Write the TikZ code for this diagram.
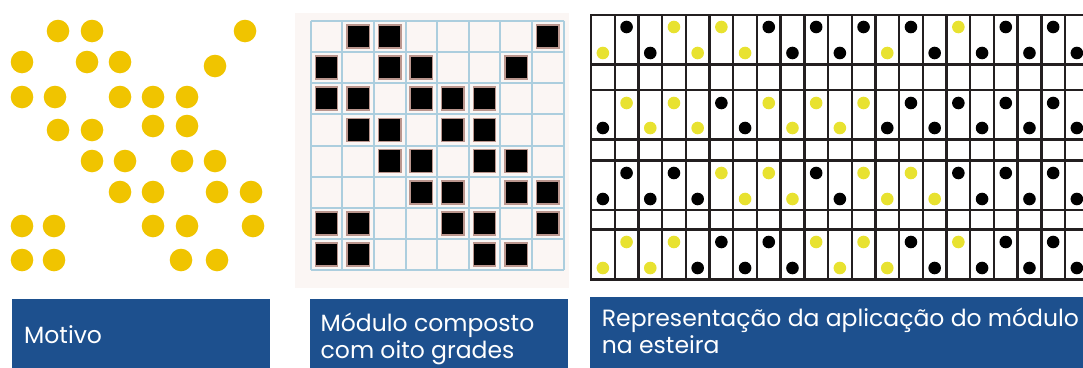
\documentclass[tikz,border=0pt]{standalone}
\usepackage{fontspec}
\newfontfamily\capfont{Poppins}
\usetikzlibrary{positioning}

\definecolor{motif}{RGB}{240,196,0}
\definecolor{Y}{RGB}{232,226,48}
\definecolor{K}{RGB}{0,0,0}
\definecolor{capblue}{RGB}{29,80,142}
\definecolor{gridblue}{RGB}{172,206,222}
\definecolor{paper}{RGB}{251,246,244}
\definecolor{fringe}{RGB}{186,150,142}
\definecolor{matline}{RGB}{35,31,32}

\begin{document}
\begin{tikzpicture}[x=1pt, y=-1pt,
    capbox/.style={fill=capblue, inner sep=0, anchor=north west},
    captext/.style={text=white, font=\capfont\fontsize{23.5}{26.5}\selectfont, align=left, inner sep=0, anchor=base west}]
  \useasboundingbox (0,0) rectangle (1083,367);

  \foreach \x/\y in {58/31, 92/31, 245/31,
      22/62, 87/62, 120/62, 215/66,
      22/97, 55/97, 120/97, 153/97, 187/97,
      58/130, 92/130, 153/126, 187/126,
      92/161, 125/161, 182/161, 215/161,
      120/192, 153/192, 217/192, 251/192,
      22/226, 54/226, 153/226, 187/226, 253/226,
      22/260, 54/260, 181/260, 217/260}
    \fill[motif] (\x,\y) circle (11.3);

  \fill[paper] (295,13) rectangle (569,288);
  \foreach \i in {0,...,8} {
    \draw[gridblue, line width=2] (310.7+31.6*\i,20.7) -- (310.7+31.6*\i,270.3);
    \draw[gridblue, line width=2] (310.7,20.7+31.2*\i) -- (563.5,20.7+31.2*\i);
  }
  \foreach \row [count=\r] in {{0,1,1,0,0,0,0,1},{1,0,1,1,0,0,1,0},{1,1,0,1,1,1,0,0},{0,1,1,0,1,1,0,0},
      {0,0,1,1,0,1,1,0},{0,0,0,1,1,0,1,1},{1,1,0,0,1,1,0,1},{1,1,0,0,0,1,1,0}}
    \foreach \v [count=\c] in \row {
      \ifnum\v=1
        \filldraw[fill=black, draw=fringe, line width=1.5] (310.7+31.6*\c-27,20.7+31.2*\r-27.1) rectangle +(22.4,23);
      \fi
    }

  \begin{scope}
    \clip (585,0) rectangle (1083,290);
    \foreach \yy in {15,64.5,90,139.5,160.5,210,229.5,279.5}
      \draw[matline, line width=2.4, line cap=rect] (591,\yy) -- (1090,\yy);
    \foreach \k in {0,...,21}
      \draw[matline, line width=2.4, line cap=rect] (591+23.7*\k,15) -- (591+23.7*\k,279.5);
    \foreach \yt/\yb/\seq in {27/53/{Y,K,K,Y,Y,Y,Y,K,K,K,K,K,Y,K,K,Y,K,K,K,K,K},
        103/128/{K,Y,Y,Y,Y,K,K,Y,Y,Y,Y,Y,K,K,K,K,K,K,K,K,K},
        173/199/{K,K,K,K,K,Y,Y,Y,Y,K,K,Y,Y,Y,Y,K,K,K,K,K,K},
        242/268/{Y,Y,Y,Y,K,K,K,K,K,Y,Y,Y,Y,K,K,Y,K,K,K,K,K}}
      \foreach \c [count=\k] in \seq {
        \ifodd\k \def\yy{\yb}\else\def\yy{\yt}\fi
        \fill[\c] (591+23.7*\k-11.85,\yy) circle (6.3);
      }
  \end{scope}

  \node[capbox, minimum width=258, minimum height=80] (motivo) at (12,299) {};
  \node[capbox, minimum width=258, minimum height=80] (modulo) at (310,299) {};
  \node[capbox, minimum width=500, minimum height=80] (esteira) at (590,297) {};
  \node[captext] (motivotxt) at (24,343) {Motivo};
  \node[captext] (modulotxt) at (320.5,358) {Módulo composto\\com oito grades};
  \node[captext] (esteiratxt) at (601.7,353) {Representação da aplicação do módulo\\na esteira};
\end{tikzpicture}
\end{document}
